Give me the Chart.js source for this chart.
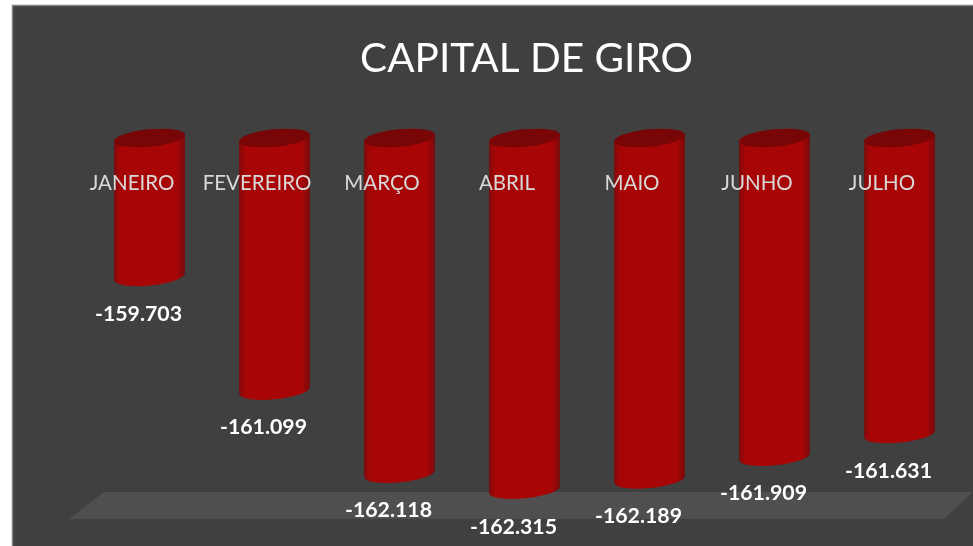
<!DOCTYPE html>
<html lang="pt">
<head>
<meta charset="utf-8">
<title>Capital de Giro</title>
<script src="https://cdn.jsdelivr.net/npm/chart.js@4"></script>
<style>
html,body{margin:0;padding:0;background:#fff;overflow:hidden}
#wrap{position:relative;width:973px;height:546px}
</style>
</head>
<body>
<div id="wrap"><canvas id="c" width="973" height="546"></canvas></div>
<script>
const chartTitle = 'CAPITAL DE GIRO';
const categories = ['JANEIRO','FEVEREIRO','MARÇO','ABRIL','MAIO','JUNHO','JULHO'];
const capitalValues = [-159703,-161099,-162118,-162315,-162189,-161909,-161631];
const axisMin = -163000;
const axisMax = -158000;

const fmt = v => (v < 0 ? '-' : '') + String(Math.abs(v)).replace(/\B(?=(\d{3})+$)/g, '.');
const TILT = Math.atan2(7, 71) * -1;
const RY = 8.7;

const backdrop = {
  id: 'backdrop',
  beforeDraw(chart) {
    const { ctx, chartArea: a, width, height } = chart;
    ctx.save();
    ctx.fillStyle = '#ffffff';
    ctx.fillRect(0, 0, width, height);
    ctx.fillStyle = '#404040';
    ctx.fillRect(12, 5, width - 12, height - 5);
    ctx.strokeStyle = '#7f7f7f';
    ctx.lineWidth = 1.5;
    ctx.beginPath();
    ctx.moveTo(12.5, height);
    ctx.lineTo(12.5, 5.5);
    ctx.lineTo(width, 5.5);
    ctx.stroke();
    ctx.fillStyle = '#504e4e';
    ctx.beginPath();
    ctx.moveTo(a.left - 18, 519);
    ctx.lineTo(a.left + 17, 492);
    ctx.lineTo(width, 492);
    ctx.lineTo(a.right - 18, 519);
    ctx.closePath();
    ctx.fill();
    ctx.restore();
  },
  afterLayout(chart) {
    chart.titleBlock.left = 91;
  }
};

const cylinders = {
  id: 'cylinders',
  beforeDatasetDraw(chart, args) {
    const { ctx } = chart;
    const meta = args.meta;
    meta.data.forEach(bar => {
      const p = bar.getProps(['x', 'y', 'base', 'width'], true);
      const halfW = p.width / 2;
      const rx = halfW / Math.cos(TILT);
      const dy = halfW * Math.tan(-TILT);
      const left = p.x - halfW, right = p.x + halfW;
      const topY = p.base, botY = p.y;
      const g = ctx.createLinearGradient(left, 0, right, 0);
      g.addColorStop(0, '#701010');
      g.addColorStop(0.03, '#900808');
      g.addColorStop(0.1, '#a80606');
      g.addColorStop(0.88, '#a80606');
      g.addColorStop(0.96, '#8a0808');
      g.addColorStop(1, '#701010');
      ctx.save();
      ctx.fillStyle = g;
      ctx.beginPath();
      ctx.moveTo(left, topY + dy);
      ctx.lineTo(left, botY + dy);
      ctx.ellipse(p.x, botY, rx, RY, TILT, Math.PI, 0, true);
      ctx.lineTo(right, topY - dy);
      ctx.closePath();
      ctx.fill();
      ctx.fillStyle = '#780606';
      ctx.beginPath();
      ctx.ellipse(p.x, topY, rx, RY, TILT, 0, Math.PI * 2);
      ctx.fill();
      ctx.restore();
    });
    return false;
  },
  afterDraw(chart) {
    const { ctx } = chart;
    const meta = chart.getDatasetMeta(0);
    ctx.save();
    ctx.font = 'bold 21.3px Lato';
    ctx.fillStyle = '#ffffff';
    ctx.textAlign = 'center';
    ctx.textBaseline = 'middle';
    meta.data.forEach((bar, i) => {
      ctx.fillText(fmt(capitalValues[i]), bar.x - 11, bar.y + 37);
    });
    ctx.restore();
  }
};

new Chart(document.getElementById('c'), {
  type: 'bar',
  data: {
    labels: categories,
    datasets: [{ label: chartTitle, data: capitalValues, base: axisMax, backgroundColor: '#a80404', barThickness: 71 }]
  },
  options: {
    responsive: false,
    animation: false,
    events: [],
    layout: { padding: { left: 87, right: 11, top: 0, bottom: 0.5 } },
    plugins: {
      legend: { display: false },
      tooltip: { enabled: false },
      title: {
        display: true,
        text: chartTitle,
        color: '#ffffff',
        font: { family: 'Lato', size: 40.5, weight: 'normal', lineHeight: 1.2 },
        padding: { top: 35, bottom: 54.4 }
      }
    },
    scales: {
      x: {
        position: { y: axisMax },
        border: { display: false },
        grid: { display: false, drawTicks: false },
        ticks: {
          z: 1,
          color: '#d9d9d9',
          font: { family: 'Lato', size: 20.5 },
          padding: 33,
          labelOffset: -17.5,
          autoSkip: false,
          maxRotation: 0
        }
      },
      y: { display: false, min: axisMin, max: axisMax }
    }
  },
  plugins: [backdrop, cylinders]
});
</script>
</body>
</html>
